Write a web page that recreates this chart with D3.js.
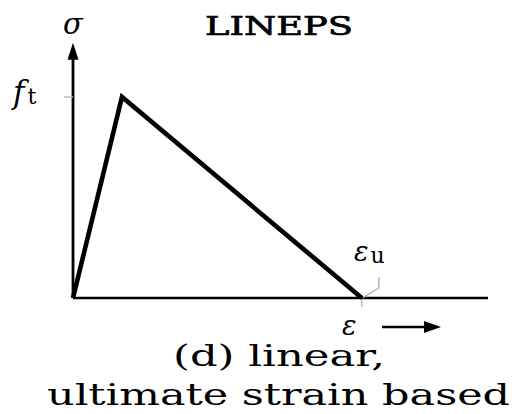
<!DOCTYPE html>
<html>
<head>
<meta charset="utf-8">
<script src="https://cdn.jsdelivr.net/npm/d3@7"></script>
<style>
  html, body { margin: 0; padding: 0; background: #fff; }
  svg { display: block; }
</style>
</head>
<body>
<svg id="chart" width="519" height="414"></svg>
<script>
// Linear softening law, ultimate strain based (normalised units)
const strain = [0, 0.118, 0.696];
const stress = [0, 1, 0];
const axisMax = { strain: 1.0, stress: 1.27 };
const title = "LINEPS";
const captionLines = ["(d) linear,", "ultimate strain based"];

const svg = d3.select("#chart");
const x = d3.scaleLinear().domain([0, axisMax.strain]).range([73, 488]);
const y = d3.scaleLinear().domain([0, 1]).range([298, 97]);

const serif = "'DejaVu Serif', 'Liberation Serif', serif";

// Axes
svg.append("line")
  .attr("x1", x(0)).attr("y1", y(0)).attr("x2", x(axisMax.strain)).attr("y2", y(0))
  .attr("stroke", "#000").attr("stroke-width", 2.6);
svg.append("line")
  .attr("x1", x(0)).attr("y1", y(0)).attr("x2", x(0)).attr("y2", y(axisMax.stress) + 14)
  .attr("stroke", "#000").attr("stroke-width", 2.8);
// arrowhead on stress axis
const tipY = y(axisMax.stress);
svg.append("path")
  .attr("d", `M${x(0)},${tipY} L${x(0) - 5.5},${tipY + 17} L${x(0) + 5.5},${tipY + 17} Z`)
  .attr("fill", "#000");

// Tick at f_t
svg.append("line")
  .attr("x1", x(0) - 9).attr("x2", x(0)).attr("y1", y(1)).attr("y2", y(1))
  .attr("stroke", "#bbb").attr("stroke-width", 1.5);

// Tick below axis at ultimate strain and the leader to its label
const xu = x(strain[2]);
svg.append("line")
  .attr("x1", xu).attr("x2", xu).attr("y1", y(0) + 1).attr("y2", y(0) + 9)
  .attr("stroke", "#bbb").attr("stroke-width", 1.5);
svg.append("path")
  .attr("d", `M${xu + 1},${y(0)} L${xu + 17},${y(0) - 10} L${xu + 17},${y(0) - 21}`)
  .attr("fill", "none").attr("stroke", "#aaa").attr("stroke-width", 1.3);

// Stress-strain curve
const line = d3.line().x((d, i) => x(strain[i])).y(d => y(d));
svg.append("path")
  .datum(stress)
  .attr("d", line)
  .attr("fill", "none")
  .attr("stroke", "#000")
  .attr("stroke-width", 4.6)
  .attr("stroke-linejoin", "miter");

// Labels
svg.append("text")
  .attr("x", 205).attr("y", 35)
  .attr("font-family", serif)
  .attr("font-size", 26)
  .attr("stroke", "#000")
  .attr("stroke-width", 0.7)
  .attr("textLength", 148)
  .attr("lengthAdjust", "spacingAndGlyphs")
  .text(title);

svg.append("text")
  .attr("x", 73).attr("y", 34)
  .attr("text-anchor", "middle")
  .attr("font-family", serif)
  .attr("font-style", "italic")
  .attr("font-size", 29)
  .text("σ");

const ft = svg.append("text")
  .attr("x", 13).attr("y", 103)
  .attr("font-family", serif)
  .attr("font-size", 31);
ft.append("tspan").attr("font-style", "italic").text("f");
ft.append("tspan").attr("font-size", 22).attr("dx", 3).attr("dy", 1).text("t");

const eu = svg.append("text")
  .attr("x", 354).attr("y", 261)
  .attr("font-family", serif)
  .attr("font-size", 27);
eu.append("tspan").attr("font-style", "italic").text("ε");
eu.append("tspan").attr("font-size", 22).attr("dx", 2).attr("dy", 2).text("u");

svg.append("text")
  .attr("x", 342).attr("y", 335)
  .attr("font-family", serif)
  .attr("font-style", "italic")
  .attr("font-size", 27)
  .text("ε");
svg.append("line")
  .attr("x1", 382).attr("x2", 428).attr("y1", 327).attr("y2", 327)
  .attr("stroke", "#000").attr("stroke-width", 2.6);
svg.append("path")
  .attr("d", "M441,327 L424,321 L424,333 Z")
  .attr("fill", "#000");

// Caption, stretched to the width of the printed figure caption
const captionX = [173, 47];
const captionW = [212, 463];
svg.selectAll("text.caption")
  .data(captionLines)
  .join("text")
  .attr("class", "caption")
  .attr("x", (d, i) => captionX[i])
  .attr("y", (d, i) => 366 + i * 39)
  .attr("font-family", serif)
  .attr("font-size", 30)
  .attr("textLength", (d, i) => captionW[i])
  .attr("lengthAdjust", "spacingAndGlyphs")
  .text(d => d);
</script>
</body>
</html>
